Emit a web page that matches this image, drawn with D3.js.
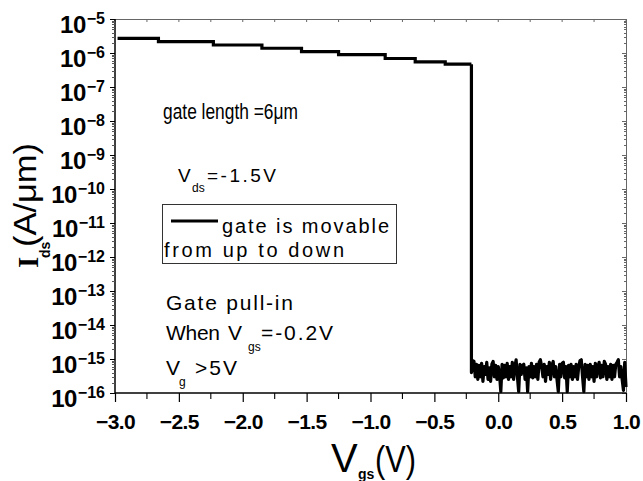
<!DOCTYPE html>
<html><head><meta charset="utf-8">
<script src="https://cdn.jsdelivr.net/npm/d3@7"></script>
<style>body{margin:0;background:#fff}svg{display:block}</style>
</head><body>
<script>
// ---- data ----
const xTickValues = [-3.0, -2.5, -2.0, -1.5, -1.0, -0.5, 0.0, 0.5, 1.0];
const xTickLabels = ["\u22123.0", "\u22122.5", "\u22122.0", "\u22121.5", "\u22121.0", "\u22120.5", "0.0", "0.5", "1.0"];
const yTickExps = [-5, -6, -7, -8, -9, -10, -11, -12, -13, -14, -15, -16];
// on-state staircase (gate up)
const stepVgs = [-2.98, -2.66, -2.23, -1.85, -1.54, -1.25, -0.885, -0.65, -0.415, -0.21];
const stepIds = [2.7e-6, 2.15e-6, 1.72e-6, 1.38e-6, 1.1e-6, 8.9e-7, 6.9e-7, 5.5e-7, 4.7e-7, 4.7e-7];
// off-state noise after pull-in
const noiseVgs = [
  -0.21, -0.20, -0.19, -0.18, -0.17, -0.16, -0.15, -0.14, -0.13, -0.12,
  -0.11, -0.10, -0.09, -0.08, -0.07, -0.06, -0.05, -0.04, -0.03, -0.02,
  -0.01, 0.00, 0.01, 0.02, 0.03, 0.04, 0.05, 0.06, 0.07, 0.08,
  0.09, 0.10, 0.11, 0.12, 0.13, 0.14, 0.15, 0.16, 0.17, 0.18,
  0.19, 0.20, 0.21, 0.22, 0.23, 0.24, 0.25, 0.26, 0.27, 0.28,
  0.29, 0.30, 0.31, 0.32, 0.33, 0.34, 0.35, 0.36, 0.37, 0.38,
  0.39, 0.40, 0.41, 0.42, 0.43, 0.44, 0.45, 0.46, 0.47, 0.48,
  0.49, 0.50, 0.51, 0.52, 0.53, 0.54, 0.55, 0.56, 0.57, 0.58,
  0.59, 0.60, 0.61, 0.62, 0.63, 0.64, 0.65, 0.66, 0.67, 0.68,
  0.69, 0.70, 0.71, 0.72, 0.73, 0.74, 0.75, 0.76, 0.77, 0.78,
  0.79, 0.80, 0.81, 0.82, 0.83, 0.84, 0.85, 0.86, 0.87, 0.88,
  0.89, 0.90, 0.91, 0.92, 0.93, 0.94, 0.95, 0.96, 0.97, 0.98,
  0.99, 1.00];
const noiseIds = [
  4e-16, 9e-16, 8.5e-16, 3e-16, 7e-16, 2.5e-16, 6.5e-16, 3e-16, 7.5e-16, 2.2e-16,
  6e-16, 3.5e-16, 8e-16, 2.5e-16, 5.5e-16, 2.2e-16, 7e-16, 8.5e-16, 3e-16, 6.5e-16,
  2.5e-16, 6e-16, 3.5e-16, 1.1e-16, 7e-16, 2.8e-16, 6.5e-16, 3e-16, 7.5e-16, 2.5e-16,
  6e-16, 3e-16, 8e-16, 2.5e-16, 6e-16, 9.5e-16, 3e-16, 1.1e-16, 7e-16, 3.5e-16,
  6.5e-16, 7e-16, 2.5e-16, 5.5e-16, 1.1e-16, 6e-16, 3e-16, 7.5e-16, 2.8e-16, 6e-16,
  3e-16, 7e-16, 2.5e-16, 8e-16, 9.5e-16, 6e-16, 3e-16, 7e-16, 2.2e-16, 6e-16,
  3.5e-16, 8e-16, 2.5e-16, 6.5e-16, 8.5e-16, 3e-16, 6e-16, 2.5e-16, 1.1e-16, 7e-16,
  3e-16, 7.5e-16, 8e-16, 2.8e-16, 6e-16, 1.1e-16, 6.5e-16, 3e-16, 7e-16, 2.5e-16,
  6e-16, 3e-16, 7e-16, 2.5e-16, 6e-16, 9e-16, 9.5e-16, 3e-16, 1.1e-16, 7e-16,
  3e-16, 6.5e-16, 2.5e-16, 7e-16, 3e-16, 6e-16, 2.2e-16, 7.5e-16, 3e-16, 6e-16,
  8e-16, 2.8e-16, 6.5e-16, 3e-16, 8.5e-16, 7e-16, 2.5e-16, 6e-16, 3e-16, 7e-16,
  2.5e-16, 6.5e-16, 3e-16, 7e-16, 8e-16, 9.5e-16, 3e-16, 6e-16, 2.5e-16, 1.2e-16,
  8e-16, 1.5e-16];

// ---- layout ----
const W = 643, H = 481;
const L = 115, R = 626, T = 19, B = 393;
const svg = d3.select("body").append("svg").attr("width", W).attr("height", H);
const x = d3.scaleLinear().domain([-3, 1]).range([L, R]);
const y = d3.scaleLog().domain([1e-16, 1e-5]).range([B, T]);

// minor tick values
const yMinor = [];
for (let e = -16; e < -5; e++) for (let m = 2; m <= 9; m++) yMinor.push(m * Math.pow(10, e));
const xMinor = d3.range(-2.75, 1.0, 0.5);

// frame: top & right (grey, thin)
const grey = "#666";
svg.append("line").attr("x1", L).attr("x2", R).attr("y1", T + 0.5).attr("y2", T + 0.5).attr("stroke", grey).attr("stroke-width", 1);
svg.append("line").attr("x1", R + 0.5).attr("x2", R + 0.5).attr("y1", T).attr("y2", B).attr("stroke", grey).attr("stroke-width", 1);
svg.append("g").selectAll("line").data(xTickValues.concat(xMinor)).join("line")
  .attr("x1", d => x(d)).attr("x2", d => x(d)).attr("y1", T).attr("y2", T + 3)
  .attr("stroke", grey).attr("stroke-width", 1);
svg.append("g").selectAll("line").data(yTickExps.map(e => Math.pow(10, e)).concat(yMinor)).join("line")
  .attr("x1", R).attr("x2", d => R - (Number.isInteger(Math.log10(d)) ? 4 : 2))
  .attr("y1", d => Math.round(y(d)) + 0.5).attr("y2", d => Math.round(y(d)) + 0.5)
  .attr("stroke", grey).attr("stroke-width", 1);

// bottom axis
const xAxis = d3.axisBottom(x).tickValues(xTickValues).tickSize(9).tickFormat((d, i) => xTickLabels[i]);
const gx = svg.append("g").attr("transform", `translate(0,${B})`).call(xAxis);
gx.select(".domain").attr("stroke", "#000").attr("stroke-width", 1.5).attr("d", `M${L},0H${R}`);
gx.selectAll(".tick line").attr("stroke", "#000").attr("stroke-width", 1.2);
gx.selectAll(".tick text").attr("y", 36).attr("dy", null)
  .attr("font-family", "Liberation Sans, Arial, sans-serif").attr("font-weight", "bold")
  .attr("font-size", 21).attr("fill", "#000").attr("letter-spacing", -0.6);
svg.append("g").attr("transform", `translate(0,${B})`).selectAll("line").data(xMinor).join("line")
  .attr("x1", d => x(d)).attr("x2", d => x(d)).attr("y1", 0).attr("y2", 6)
  .attr("stroke", "#000").attr("stroke-width", 1.1);

// left axis
const yAxis = d3.axisLeft(y).tickValues(yTickExps.map(e => Math.pow(10, e))).tickSize(5).tickFormat("");
const gy = svg.append("g").attr("transform", `translate(${L},0)`).call(yAxis);
gy.select(".domain").attr("stroke", "#000").attr("stroke-width", 1.5).attr("d", `M0,${T}V${B}`);
gy.selectAll(".tick line").attr("stroke", "#000").attr("stroke-width", 1);
svg.append("g").attr("transform", `translate(${L},0)`).selectAll("line").data(yMinor).join("line")
  .attr("x1", 0).attr("x2", -3).attr("y1", d => Math.round(y(d)) + 0.5).attr("y2", d => Math.round(y(d)) + 0.5)
  .attr("stroke", "#555").attr("stroke-width", 1);
const yl = svg.append("g").selectAll("text").data(yTickExps).join("text")
  .attr("x", 105).attr("y", d => y(Math.pow(10, d)) + 14)
  .attr("text-anchor", "end").attr("font-family", "Liberation Sans, Arial, sans-serif")
  .attr("font-weight", "bold").attr("fill", "#000");
yl.append("tspan").attr("font-size", 24).attr("letter-spacing", -0.5).text("10");
yl.append("tspan").attr("font-size", 16).attr("dy", -9).attr("dx", 1).text(d => "\u2212" + Math.abs(d));

// data curves
const stepLine = d3.line().x(d => x(d[0])).y(d => y(d[1])).curve(d3.curveStepAfter);
const linLine = d3.line().x(d => x(d[0])).y(d => y(d[1]));
const stepPts = stepVgs.map((v, i) => [v, stepIds[i]]);
const noisePts = [[stepVgs[stepVgs.length - 1], stepIds[stepIds.length - 1]]].concat(noiseVgs.map((v, i) => [v, noiseIds[i]]));
svg.append("path").attr("d", stepLine(stepPts)).attr("fill", "none").attr("stroke", "#000").attr("stroke-width", 3.2);
svg.append("path").attr("d", linLine(noisePts)).attr("fill", "none").attr("stroke", "#000").attr("stroke-width", 3.2).attr("stroke-linejoin", "round");

// axis titles
const fs = "Liberation Sans, Arial, sans-serif";
svg.append("text").attr("x", 331).attr("y", 472).attr("font-family", fs).attr("font-size", 40).text("V");
svg.append("text").attr("x", 358).attr("y", 479).attr("font-family", fs).attr("font-weight", "bold").attr("font-size", 14).text("gs");
svg.append("text").attr("x", 375).attr("y", 472).attr("font-family", fs).attr("font-size", 37).attr("textLength", 41).attr("lengthAdjust", "spacingAndGlyphs").text("(V)");

svg.append("text").attr("transform", "translate(38,268) rotate(-90)").attr("font-family", "Liberation Serif, Times New Roman, serif").attr("font-weight", "bold").attr("font-size", 29).text("I");
svg.append("text").attr("transform", "translate(50,258) rotate(-90)").attr("font-family", fs).attr("font-weight", "bold").attr("font-size", 14).text("ds");
svg.append("text").attr("transform", "translate(36,247) rotate(-90)").attr("font-family", fs).attr("font-size", 31).attr("textLength", 104).attr("lengthAdjust", "spacingAndGlyphs").text("(A/\u03bcm)");

// annotations
function txt(xp, yp, s, size, len, adj, fam) {
  const t = svg.append("text").attr("x", xp).attr("y", yp).attr("font-family", fam || fs).attr("font-size", size).attr("fill", "#000").text(s);
  if (len) t.attr("textLength", len).attr("lengthAdjust", adj || "spacing");
  return t;
}
txt(163, 119, "gate length =6\u03bcm", 22, 135, "spacingAndGlyphs", "Liberation Sans Narrow, Liberation Sans, Arial, sans-serif");
txt(178, 182, "V", 19);
txt(192, 192, "ds", 12);
txt(207, 182, "=-1.5V", 19, 69);

svg.append("rect").attr("x", 162.5).attr("y", 204.5).attr("width", 234).attr("height", 59).attr("fill", "none").attr("stroke", "#333").attr("stroke-width", 1);
svg.append("line").attr("x1", 171).attr("x2", 218).attr("y1", 221).attr("y2", 221).attr("stroke", "#000").attr("stroke-width", 3.2);
txt(222, 233, "gate is movable", 20, 167);
txt(164, 257, "from up to down", 20, 180);

txt(166, 310, "Gate pull-in", 21, 127);
txt(166, 340, "When", 21, 54);
txt(228, 340, "V", 21);
txt(248, 351, "gs", 12);
txt(261, 340, "=-0.2V", 21, 72);
txt(166, 375, "V", 21);
txt(179, 386, "g", 12);
txt(195, 375, ">5V", 21, 42);
</script>
</body></html>
